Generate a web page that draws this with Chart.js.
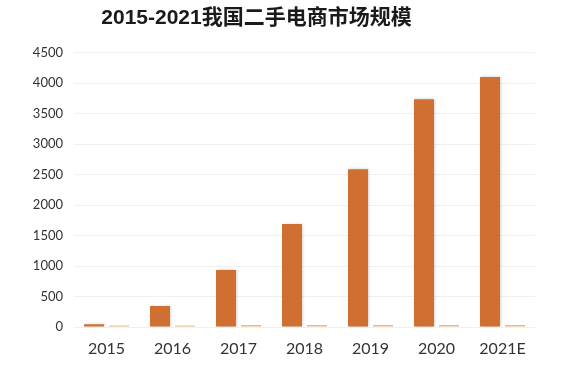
<!DOCTYPE html>
<html>
<head>
<meta charset="utf-8">
<script src="https://cdn.jsdelivr.net/npm/chart.js@4.4.0/dist/chart.umd.min.js"></script>
<style>
html,body{margin:0;padding:0;background:#fff;}
#wrap{width:576px;height:369px;position:relative;}
</style>
</head>
<body>
<div id="wrap"><canvas id="c" width="576" height="369"></canvas></div>
<script>
const titleText = '2015-2021我国二手电商市场规模';
const categories = ['2015','2016','2017','2018','2019','2020','2021E'];
const marketSize = [45, 345, 935, 1690, 2590, 3735, 4100];
const secondSeries = [25, 25, 32, 32, 32, 32, 32];
const yTicks = [0,500,1000,1500,2000,2500,3000,3500,4000,4500];

const titlePlugin = {
  id: 'customTitle',
  afterDraw(chart) {
    const ctx = chart.ctx;
    ctx.save();
    ctx.font = "bold 21px 'Liberation Sans', 'Noto Sans CJK SC', sans-serif";
    ctx.fillStyle = '#1a1a1a';
    ctx.textAlign = 'center';
    ctx.textBaseline = 'middle';
    ctx.fillText(titleText, 256.5, 18);
    ctx.restore();
  }
};
const shadowPlugin = {
  id: 'barShadow',
  beforeDatasetDraw(chart, args) {
    const ctx = chart.ctx;
    ctx.save();
    if (args.index === 0) {
      ctx.shadowColor = 'rgba(0,0,0,0.22)';
      ctx.shadowBlur = 3;
      ctx.shadowOffsetX = 1.5;
      ctx.shadowOffsetY = 0;
    }
  },
  afterDatasetDraw(chart) {
    chart.ctx.restore();
  }
};

new Chart(document.getElementById('c'), {
  type: 'bar',
  data: {
    labels: categories,
    datasets: [
      { label: '市场规模', data: marketSize, backgroundColor: '#CF7032', categoryPercentage: 0.758, barPercentage: 0.8 },
      { label: '增速', data: secondSeries, backgroundColor: '#F2B57C', categoryPercentage: 0.758, barPercentage: 0.8 }
    ]
  },
  options: {
    responsive: false,
    animation: false,
    devicePixelRatio: 1,
    layout: { padding: { left: 0, right: 40.5, top: 52.7, bottom: 10.4 } },
    plugins: { legend: { display: false }, tooltip: { enabled: false }, title: { display: false } },
    scales: {
      x: {
        afterFit(scale) { scale.height = 31.6; },
        grid: { display: false, drawTicks: false },
        border: { display: false },
        ticks: { color: '#333', font: { family: "Lato, 'Open Sans', sans-serif", size: 16 }, padding: 12.4, maxRotation: 0 }
      },
      y: {
        min: 0, max: 4500,
        afterBuildTicks(scale) { scale.ticks = yTicks.map(v => ({ value: v })); },
        afterFit(scale) { scale.width = 73.5; },
        grid: { color: '#f0f0f0', drawTicks: false, lineWidth: 1 },
        border: { display: false },
        ticks: { color: '#333', font: { family: "Lato, 'Open Sans', sans-serif", size: 13 }, padding: 10.5, callback: (v) => String(v) }
      }
    }
  },
  plugins: [titlePlugin, shadowPlugin]
});
</script>
</body>
</html>
